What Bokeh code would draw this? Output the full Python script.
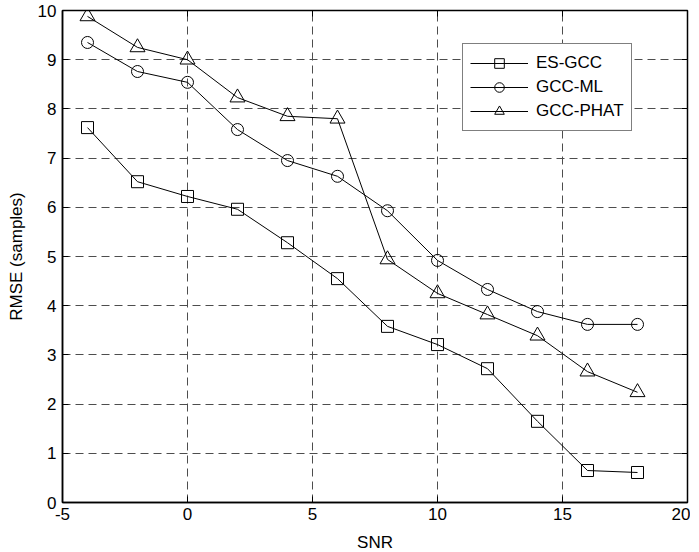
from bokeh.plotting import figure
from bokeh.models import Range1d, LinearAxis, Legend, FixedTicker
from bokeh.embed import file_html
from bokeh.resources import INLINE

snr = [-4, -2, 0, 2, 4, 6, 8, 10, 12, 14, 16, 18]
es_gcc = [7.62, 6.52, 6.22, 5.96, 5.28, 4.55, 3.58, 3.21, 2.72, 1.65, 0.65, 0.61]
gcc_ml = [9.35, 8.76, 8.54, 7.58, 6.95, 6.63, 5.93, 4.92, 4.33, 3.88, 3.62, 3.62]
gcc_phat = [9.88, 9.25, 9.0, 8.23, 7.85, 7.80, 4.94, 4.25, 3.82, 3.39, 2.66, 2.24]
x_ticks = [-5, 0, 5, 10, 15, 20]
y_ticks = [0, 1, 2, 3, 4, 5, 6, 7, 8, 9, 10]
x_labels = {t: str(t) for t in x_ticks}

FONT = "Liberation Sans"

p = figure(width=691, height=544, output_backend="svg", toolbar_location=None,
           x_range=Range1d(-5, 20), y_range=Range1d(0, 10),
           frame_width=625, frame_height=492,
           min_border_left=62, min_border_top=10, min_border_right=3, min_border_bottom=42)
p.background_fill_color = "white"
p.border_fill_color = "white"
p.outline_line_color = "black"
p.outline_line_width = 1.5

for ax in (p.xaxis[0], p.yaxis[0]):
    ax.major_tick_in = 6
    ax.major_tick_out = 0
    ax.minor_tick_in = 0
    ax.minor_tick_out = 0
    ax.axis_line_color = "black"
    ax.axis_line_width = 1.5
    ax.major_tick_line_color = "black"
    ax.major_label_text_font = FONT
    ax.major_label_text_font_size = "17px"
    ax.major_label_text_color = "black"
    ax.axis_label_text_font = FONT
    ax.axis_label_text_font_size = "17px"
    ax.axis_label_text_font_style = "normal"
    ax.axis_label_text_color = "black"

p.xaxis.ticker = FixedTicker(ticks=x_ticks)
p.yaxis.ticker = FixedTicker(ticks=y_ticks)
p.xaxis.major_label_overrides = x_labels
p.xaxis.axis_label = "SNR"
p.yaxis.axis_label = "RMSE (samples)"
p.xaxis.major_label_standoff = 5
p.yaxis.major_label_standoff = 6
p.xaxis.axis_label_standoff = 10
p.yaxis.axis_label_standoff = 9

top = LinearAxis(ticker=FixedTicker(ticks=x_ticks),
                 major_label_overrides={t: "" for t in x_ticks},
                 major_tick_in=6, major_tick_out=0, minor_tick_in=0, minor_tick_out=0,
                 axis_line_color=None)
right = LinearAxis(ticker=FixedTicker(ticks=y_ticks),
                   major_label_overrides={t: "" for t in y_ticks},
                   major_tick_in=6, major_tick_out=0, minor_tick_in=0, minor_tick_out=0,
                   axis_line_color=None)
p.add_layout(top, "above")
p.add_layout(right, "right")

for g in (p.xgrid[0], p.ygrid[0]):
    g.grid_line_color = "#4d4d4d"
    g.grid_line_dash = "8 5"
    g.grid_line_width = 1
p.xgrid.ticker = FixedTicker(ticks=x_ticks)
p.ygrid.ticker = FixedTicker(ticks=y_ticks)

r1 = p.line(snr, es_gcc, line_color="black", line_width=1)
m1 = p.scatter(snr, es_gcc, marker="square", size=12, fill_color=None, line_color="black", line_width=1)
r2 = p.line(snr, gcc_ml, line_color="black", line_width=1)
m2 = p.scatter(snr, gcc_ml, marker="circle", size=12, fill_color=None, line_color="black", line_width=1)
r3 = p.line(snr, gcc_phat, line_color="black", line_width=1)
m3 = p.scatter(snr, gcc_phat, marker="triangle", size=15, fill_color=None, line_color="black", line_width=1)

legend = Legend(items=[("ES-GCC", [r1, m1]), ("GCC-ML", [r2, m2]), ("GCC-PHAT", [r3, m3])],
                location=(400, 492 - 35 - 86))
legend.label_text_font = FONT
legend.label_text_font_size = "17px"
legend.label_text_color = "black"
legend.glyph_width = 58
legend.glyph_height = 24
legend.spacing = 0
legend.padding = 7
legend.margin = 0
legend.label_standoff = 8
legend.border_line_color = "black"
legend.border_line_width = 1
legend.background_fill_color = "white"
legend.background_fill_alpha = 1
p.add_layout(legend, "center")

open("out.html", "w").write(file_html(p, INLINE))
